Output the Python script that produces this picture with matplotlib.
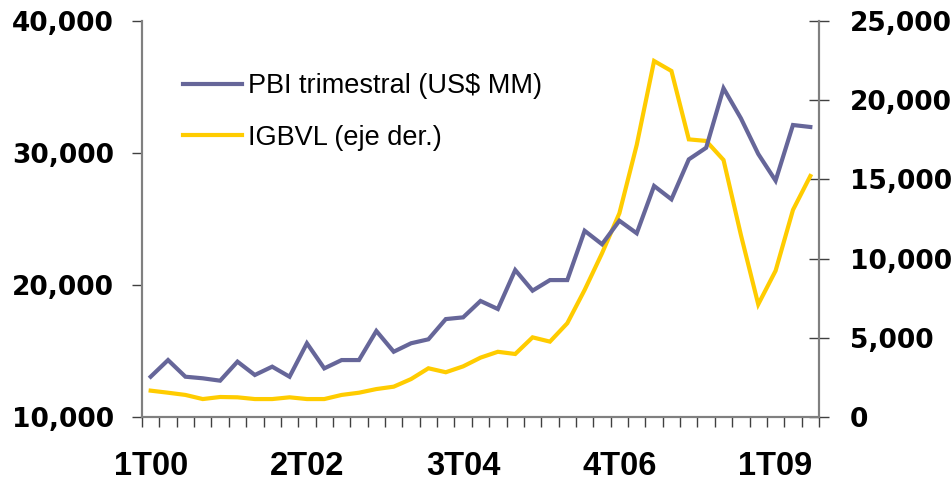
import matplotlib.pyplot as plt
from matplotlib.ticker import FuncFormatter, FixedLocator

# Trimestres 1T00 ... 3T09
trimestres = [f'{q}T{a:02d}' for a in range(0, 10) for q in range(1, 5)][:39]

# PBI trimestral (US$ MM), eje izquierdo
pbi = [13070, 14330, 13070, 12950, 12770, 14210, 13200, 13830, 13070, 15600,
       13700, 14330, 14330, 16530, 14960, 15600, 15900, 17430, 17560, 18800,
       18190, 21140, 19580, 20380, 20380, 24110, 23090, 24870, 23920, 27500,
       26490, 29510, 30390, 34890, 32620, 29920, 27900, 32110, 31960]

# IGBVL, eje derecho
igbvl = [1680, 1550, 1410, 1150, 1280, 1260, 1150, 1150, 1260, 1150,
         1150, 1410, 1550, 1780, 1930, 2410, 3090, 2840, 3210, 3760,
         4130, 3990, 5040, 4770, 5930, 8030, 10340, 12860, 17170, 22460,
         21830, 17520, 17420, 16220, 11500, 7120, 9240, 13070, 15210]

etiquetas_x = ['1T00', '2T02', '3T04', '4T06', '1T09']

color_pbi = '#666699'
color_igbvl = '#FFCC00'
gris = '#808080'

fig = plt.figure(figsize=(9.52, 4.84), dpi=100)
ax = fig.add_axes([142 / 952, 1 - 417.3 / 484, (819 - 142) / 952, (417.3 - 20.7) / 484])
ax2 = ax.twinx()

x = list(range(len(trimestres)))
l1, = ax.plot(x, pbi, color=color_pbi, lw=3, solid_joinstyle='miter')
l2, = ax2.plot(x, igbvl, color=color_igbvl, lw=3, solid_joinstyle='miter')
ax.set_zorder(ax2.get_zorder() + 1)
ax.patch.set_visible(False)

ax.set_xlim(-0.5, len(trimestres) - 0.5)
ax.set_ylim(10000, 40000)
ax2.set_ylim(0, 25000)
ax.set_yticks([10000, 20000, 30000, 40000])
ax2.set_yticks(range(0, 25001, 5000))

fmt = FuncFormatter(lambda v, p: f'{v:,.0f}')
ax.yaxis.set_major_formatter(fmt)
ax2.yaxis.set_major_formatter(fmt)

# etiquetas del eje x cada 9 trimestres, marcas entre categorías
pos = [trimestres.index(t) for t in etiquetas_x]
ax.set_xticks(pos)
ax.set_xticklabels(etiquetas_x, fontsize=23.5, fontweight='bold', family='Liberation Sans')
ax.xaxis.set_minor_locator(FixedLocator([i - 0.5 for i in range(len(trimestres) + 1)]))
ax.tick_params(axis='x', which='major', length=0, pad=24)
ax.tick_params(axis='x', which='minor', length=10 / 1.389, width=1, color='#404040', direction='out')

ax.tick_params(axis='y', length=10 / 1.389, width=1, color='#404040', direction='out', pad=13)
ax2.tick_params(axis='y', length=20 / 1.389, width=1, color='#404040', direction='inout', pad=15)
for lab in ax.get_yticklabels() + ax2.get_yticklabels():
    lab.set_fontsize(19)
    lab.set_fontweight('bold')
    lab.set_family('DejaVu Sans')

for a in (ax, ax2):
    a.spines['top'].set_visible(False)
    for s in ('left', 'right', 'bottom'):
        a.spines[s].set_color(gris)
        a.spines[s].set_linewidth(1.5)

ax.legend([l1, l2], ['PBI trimestral (US$ MM)', 'IGBVL (eje der.)'],
          loc='upper left', bbox_to_anchor=(182.7 / 952, 1 - 73 / 484),
          bbox_transform=fig.transFigure, frameon=False,
          prop={'family': 'Liberation Sans', 'size': 19.5},
          handlelength=2.2, handletextpad=0.22, borderpad=0, borderaxespad=0,
          labelspacing=0.95)

fig.savefig('out.png', dpi=100)
